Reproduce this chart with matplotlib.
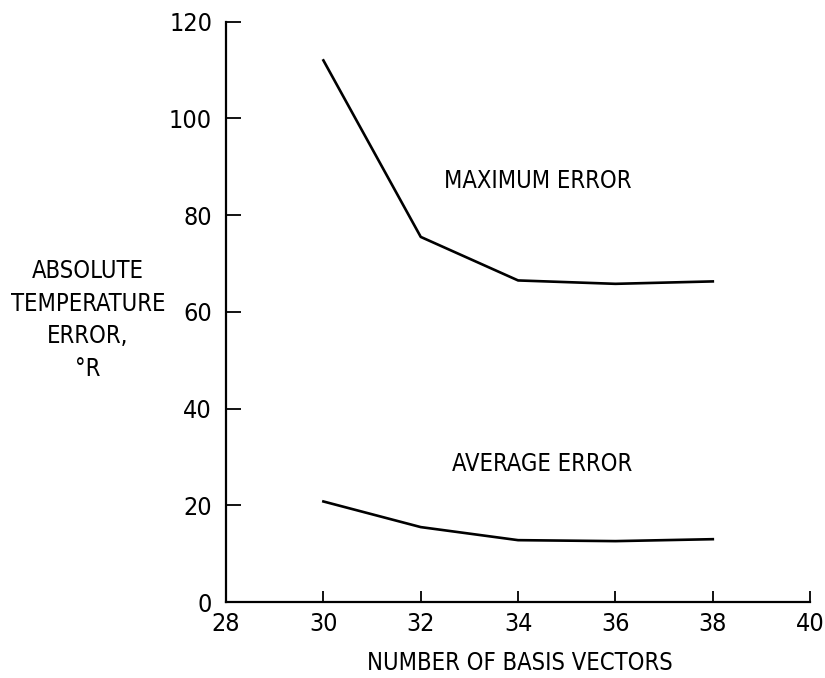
import matplotlib
matplotlib.use("Agg")
import matplotlib.pyplot as plt

basis = [30, 32, 34, 36, 38]
max_err = [112, 75.5, 66.5, 65.8, 66.3]
avg_err = [20.8, 15.5, 12.8, 12.6, 13.0]
xticks = [28, 30, 32, 34, 36, 38, 40]
yticks = [0, 20, 40, 60, 80, 100, 120]

plt.rcParams['font.family'] = ['DejaVu Sans']
plt.rcParams['font.stretch'] = 'condensed'

fig = plt.figure(figsize=(8.25, 6.78), dpi=100)
ax = fig.add_axes([0.274, 0.112, 0.708, 0.856])
ax.plot(basis, max_err, color='black', lw=1.9)
ax.plot(basis, avg_err, color='black', lw=1.9)
ax.set_xlim(28, 40)
ax.set_ylim(0, 120)
ax.set_xticks(xticks)
ax.set_yticks(yticks)
ax.spines['top'].set_visible(False)
ax.spines['right'].set_visible(False)
for s in ['left', 'bottom']:
    ax.spines[s].set_linewidth(1.6)
ax.tick_params(axis='x', direction='in', length=8, width=1.3, labelsize=18, pad=7)
ax.tick_params(axis='y', direction='in', length=11, width=1.3, labelsize=18, pad=10)

ax.text(34.4, 87, 'MAXIMUM ERROR', ha='center', va='center', fontsize=17)
ax.text(34.5, 28.5, 'AVERAGE ERROR', ha='center', va='center', fontsize=17)

fig.text(88/825, 1 - 320/678, 'ABSOLUTE\nTEMPERATURE\nERROR,\n°R', ha='center', va='center',
         fontsize=17, linespacing=1.45)
fig.text(520/825, 1 - 663/678, 'NUMBER OF BASIS VECTORS', ha='center', va='center', fontsize=17)

fig.savefig('out.png', dpi=100)
